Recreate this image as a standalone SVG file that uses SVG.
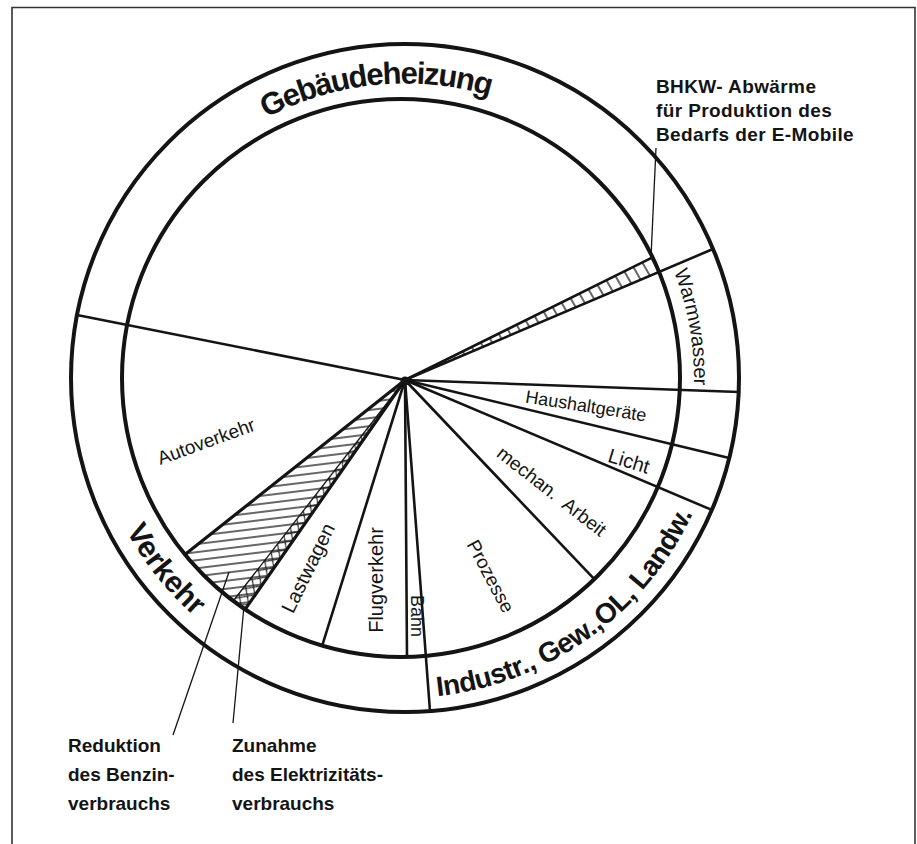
<svg xmlns="http://www.w3.org/2000/svg" width="917" height="844" viewBox="0 0 917 844">
<style>
  .ring{fill:none;stroke:#141414;stroke-width:4}
  .rad{stroke:#141414;stroke-width:2.6;stroke-linecap:round;fill:none}
  .thick{stroke:#141414;stroke-width:3.2;stroke-linecap:round;fill:none}
  .thin{stroke:#141414;stroke-width:1.3;fill:none}
  .lbl{font-family:"Liberation Sans",Arial,Helvetica,sans-serif;fill:#141414}
  .big{font-weight:bold}
  .note{font-weight:bold;font-size:19px}
</style>
<defs>
  <pattern id="hatch" patternUnits="userSpaceOnUse" width="8" height="8" patternTransform="rotate(-7)">
    <line x1="0" y1="4" x2="8" y2="4" stroke="#141414" stroke-width="1.3"/>
  </pattern>
  <pattern id="cross" patternUnits="userSpaceOnUse" width="11" height="11" patternTransform="rotate(35)">
    <path d="M0,0 L11,11 M11,0 L0,11" stroke="#141414" stroke-width="1.1"/>
  </pattern>
  <pattern id="slant" patternUnits="userSpaceOnUse" width="10" height="10" patternTransform="rotate(-30)">
    <line x1="5" y1="0" x2="5" y2="10" stroke="#141414" stroke-width="1.3"/>
  </pattern>
  <path id="pGeb" d="M176.4,191.6 A296,296 0 0 1 591.4,149.4"/>
  <path id="pVerk" d="M89,342.6 A318,318 0 0 0 369.6,694"/>
  <path id="pInd" d="M350.2,693.6 A320,320 0 0 0 718.6,430.8"/>
  <path id="pWarm" d="M569.9,139.6 A291,291 0 0 1 641.4,544.9"/>
</defs>

<rect x="0" y="0" width="917" height="844" fill="#ffffff"/>
<path id="frame" d="M12,850 V7.5 H915 V850" fill="none" stroke="#333" stroke-width="1.6"/>

<g id="hatched-areas">
  <path id="benzin-reduktion" d="M405,380 L185,554.5 A279,279 0 0 0 245.1,609.4 Z" fill="url(#hatch)"/>
  <path id="elektrizitaet-zunahme" d="M405,380 L233.2,601 A279,279 0 0 0 245.1,609.4 Z" fill="url(#cross)"/>
  <path id="bhkw-abwaerme" d="M405,380 L652.5,257.3 A279,279 0 0 1 658.9,271.6 Z" fill="url(#slant)"/>
</g>

<g id="connectors">
  <line class="rad" x1="405" y1="380" x2="77" y2="315"/>
  <line class="rad" x1="405" y1="380" x2="713" y2="249"/>
  <line class="rad" x1="405" y1="380" x2="652.5" y2="257.3"/>
  <line class="rad" x1="405" y1="380" x2="739" y2="392"/>
  <line class="rad" x1="405" y1="380" x2="729.2" y2="458"/>
  <line class="rad" x1="405" y1="380" x2="711.8" y2="509.9"/>
  <line class="rad" x1="405" y1="380" x2="594.3" y2="579.2"/>
  <line class="rad" x1="405" y1="380" x2="430" y2="711"/>
  <line class="rad" x1="405" y1="380" x2="407" y2="657"/>
  <line class="rad" x1="405" y1="380" x2="322.2" y2="645.7"/>
  <line class="thick" x1="405" y1="380" x2="245.1" y2="609.4"/>
  <line class="thin" x1="405" y1="380" x2="233.2" y2="601"/>
  <line class="thick" x1="405" y1="380" x2="185" y2="554.5"/>
  <circle cx="405" cy="381" r="4.5" fill="#141414"/>
  <line class="thin" x1="656" y1="148" x2="651" y2="257"/>
  <line class="thin" x1="173" y1="735" x2="229" y2="572"/>
  <line class="thin" x1="233" y1="723" x2="244" y2="606"/>
</g>

<g id="rings">
  <circle class="ring" cx="405" cy="378" r="334"/>
  <circle class="ring" cx="401" cy="378" r="279"/>
</g>

<g id="ring-labels" class="lbl">
  <text id="gebaeudeheizung" class="big" font-size="31" letter-spacing="-1.5"><textPath href="#pGeb" startOffset="50%" text-anchor="middle">Gebäudeheizung</textPath></text>
  <text id="verkehr" class="big" font-size="30"><textPath href="#pVerk" startOffset="50%" text-anchor="middle">Verkehr</textPath></text>
  <text id="industrie" class="big" font-size="28" letter-spacing="-0.5"><textPath href="#pInd" startOffset="50%" text-anchor="middle">Industr., Gew.,OL, Landw.</textPath></text>
  <text id="warmwasser" font-size="20"><textPath href="#pWarm" startOffset="50%" text-anchor="middle">Warmwasser</textPath></text>
</g>

<g id="sector-labels" class="lbl" text-anchor="middle">
  <g id="autoverkehr"><text transform="translate(206,441) rotate(-20)" y="7" font-size="19">Autoverkehr</text></g>
  <g id="lastwagen"><text transform="translate(308,568) rotate(-64)" y="7" font-size="20">Lastwagen</text></g>
  <g id="flugverkehr"><text transform="translate(376,580) rotate(-90)" y="7" font-size="20">Flugverkehr</text></g>
  <g id="bahn"><text transform="translate(417,616) rotate(90)" y="6" font-size="18">Bahn</text></g>
  <g id="prozesse"><text transform="translate(491,576) rotate(62)" y="7" font-size="19">Prozesse</text></g>
  <g id="mechan-arbeit"><text transform="translate(552,491) rotate(38)" y="7" font-size="19" word-spacing="6">mechan. Arbeit</text></g>
  <g id="licht"><text transform="translate(629,461) rotate(17)" y="7" font-size="20">Licht</text></g>
  <g id="haushaltgeraete"><text transform="translate(586,406) rotate(9)" y="6" font-size="18">Haushaltgeräte</text></g>
</g>

<g id="notes" class="lbl note">
  <g id="note-bhkw">
    <text x="656" y="93" letter-spacing="0.4">BHKW- Abwärme</text>
    <text x="656" y="117" letter-spacing="0.4">für Produktion des</text>
    <text x="656" y="141" letter-spacing="0.4">Bedarfs der E-Mobile</text>
  </g>
  <g id="note-reduktion">
    <text x="68" y="752">Reduktion</text>
    <text x="68" y="781">des Benzin-</text>
    <text x="68" y="810">verbrauchs</text>
  </g>
  <g id="note-zunahme">
    <text x="232" y="752">Zunahme</text>
    <text x="232" y="781">des Elektrizitäts-</text>
    <text x="232" y="810">verbrauchs</text>
  </g>
</g>
</svg>
